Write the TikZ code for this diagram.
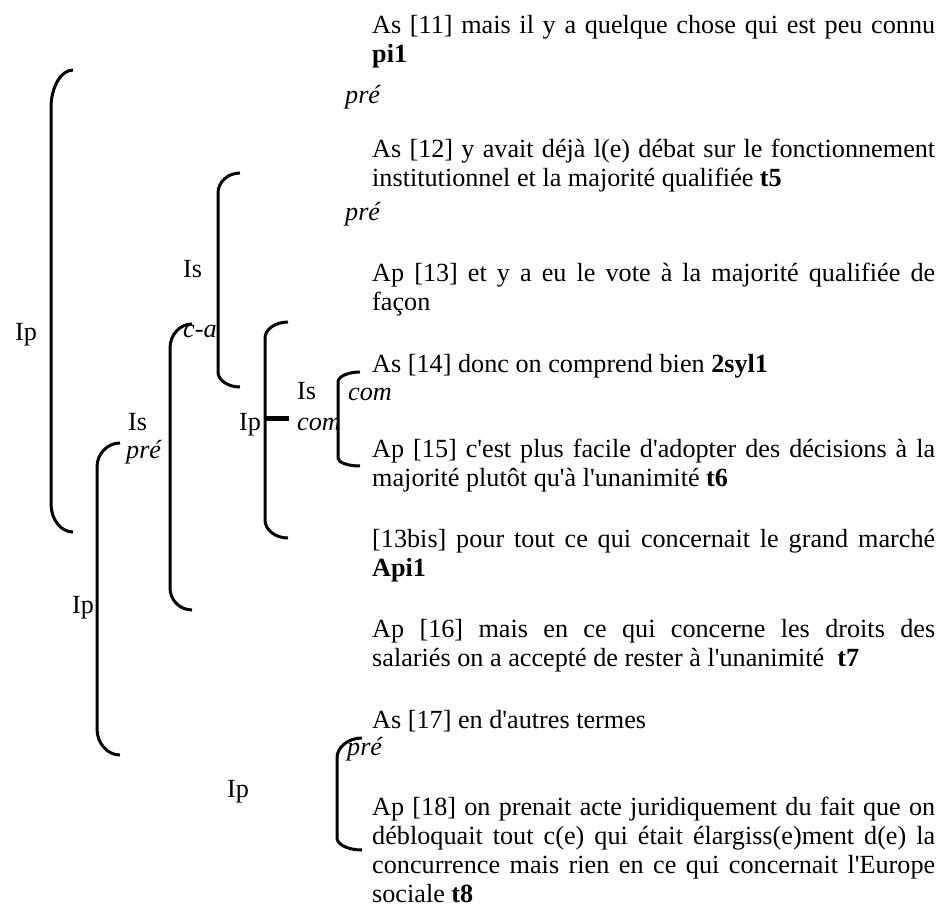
\documentclass[tikz,border=0pt]{standalone}
\usepackage{fontspec}
\setmainfont{Liberation Serif}[Ligatures=TeXOff]
\newcommand\bigtxt{\fontsize{26.2}{29}\selectfont}
\newcommand\jpar[1]{\parbox[t]{563pt}{\bigtxt\tolerance=10000\hyphenpenalty=10000\emergencystretch=2em #1}}
% bracket: x, ytop, ybot, xend, rtop, rbot
\newcommand\bkt[6]{%
  \draw[brk] (#4,#2) .. controls (#1+0.45*#4-0.45*#1,#2) and (#1,#2+0.45*#5) .. (#1,#2+#5)
    -- (#1,#3-#6) .. controls (#1,#3-0.45*#6) and (#1+0.45*#4-0.45*#1,#3) .. (#4,#3);}
\tikzset{
  lab/.style={anchor=base west, inner sep=0pt, font=\bigtxt},
  ilab/.style={anchor=base west, inner sep=0pt, font=\bigtxt\itshape},
  para/.style={anchor=base west, inner sep=0pt, font=\bigtxt},
  brk/.style={line width=3pt, line cap=butt},
  tick/.style={line width=5pt},
}
\begin{document}
\begin{tikzpicture}[x=1pt,y=-1pt]
\fill[white] (0,0) rectangle (942,918);
\useasboundingbox (0,0) rectangle (942,918);

% text paragraphs
\node[para] (p11) at (372,33) {\jpar{As [11] mais il y a quelque chose qui est peu connu\linebreak \textbf{pi1}}};
\node[ilab] (pre1) at (345,103) {pré};
\node[para] (p12) at (372,157) {\jpar{As [12] y avait déjà l(e) débat sur le fonctionnement\linebreak institutionnel et la majorité qualifiée \textbf{t5}}};
\node[ilab] (pre2) at (345,220) {pré};
\node[para] (p13) at (372,281) {\jpar{Ap [13] et y a eu le vote à la majorité qualifiée de\linebreak façon}};
\node[para] (p14) at (372,372) {\jpar{As [14] donc on comprend bien \textbf{2syl1}}};
\node[ilab] (com1) at (348,400) {com};
\node[para] (p15) at (372,457) {\jpar{Ap [15] c'est plus facile d'adopter des décisions à la\linebreak majorité plutôt qu'à l'unanimité \textbf{t6}}};
\node[para] (p13b) at (372,547) {\jpar{[13bis] pour tout ce qui concernait le grand marché\linebreak \textbf{Api1}}};
\node[para] (p16) at (372,637) {\jpar{Ap [16] mais en ce qui concerne les droits des\linebreak salariés on a accepté de rester à l'unanimité~ \textbf{t7}}};
\node[para] (p17) at (372,728) {\jpar{As [17] en d'autres termes}};
\node[ilab] (pre3) at (347,755) {pré};
\node[para] (p18) at (372,815) {\jpar{Ap [18] on prenait acte juridiquement du fait que on\linebreak débloquait tout c(e) qui était élargiss(e)ment d(e) la\linebreak concurrence mais rien en ce qui concernait l'Europe\linebreak sociale \textbf{t8}}};

% left labels
\node[lab] (ip1) at (15,340) {Ip};
\node[lab] (is1) at (183,277) {Is};
\node[ilab] (ca) at (183,337) {c-a};
\node[lab] (is2) at (297,399) {Is};
\node[lab] (ip2) at (239,430) {Ip};
\node[ilab] (com2) at (297,430) {com};
\node[lab] (is3) at (128,430) {Is};
\node[ilab] (pre4) at (126,458) {pré};
\node[lab] (ip3) at (72,613) {Ip};
\node[lab] (ip4) at (227,797) {Ip};

% brackets
\bkt{51}{70}{532}{73}{38}{28}
\bkt{218}{173}{387}{240}{20}{15}
\bkt{170}{324}{610}{192}{24}{22}
\bkt{265}{322}{538}{288}{16}{18}
\bkt{338}{372}{466}{360}{10}{8}
\bkt{97}{443}{755}{120}{24}{26}
\bkt{337}{738}{850}{362}{20}{12}

% tick
\coordinate (t1) at (265,418);
\coordinate (t2) at (289,418);
\draw[tick] (t1) -- (t2);
\end{tikzpicture}
\end{document}
